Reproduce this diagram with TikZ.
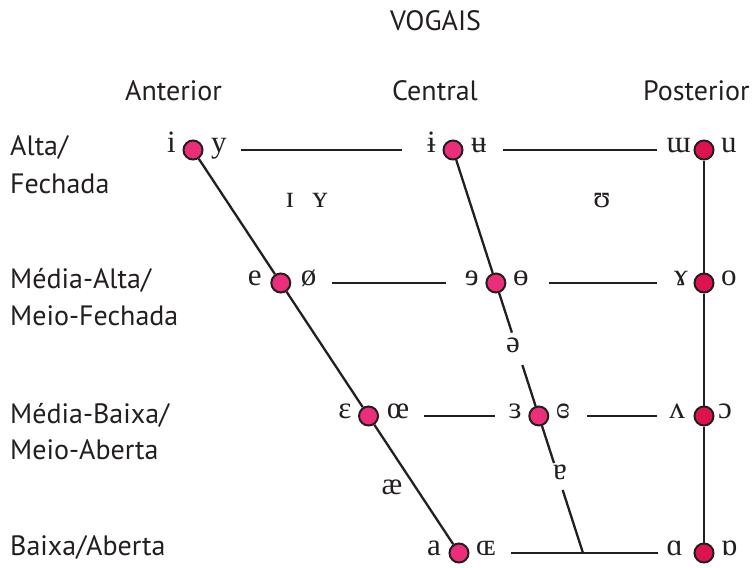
\documentclass[tikz,border=0pt]{standalone}
\usepackage{fontspec}
\setmainfont{Liberation Serif}
\newfontfamily\labfont{PT Sans}
\usetikzlibrary{calc}
\definecolor{pinkdot}{HTML}{EC2D7A}
\definecolor{reddot}{HTML}{DF1250}
\definecolor{ink}{HTML}{231F20}
\begin{document}
\begin{tikzpicture}[x=1pt,y=-1pt,
  lab/.style={font=\labfont\fontsize{28}{34}\selectfont, text=ink, inner sep=0, anchor=base west},
  ipa/.style={font=\fontsize{31}{36}\selectfont, text=ink, inner sep=0},
  ipaL/.style={ipa, anchor=mid east},
  ipaR/.style={ipa, anchor=mid west},
  ipaM/.style={ipa, anchor=mid},
  ln/.style={line width=2.3pt, draw=ink},
  dotF/.style={circle, draw=ink, line width=2pt, fill=pinkdot, minimum size=19pt, inner sep=0},
  dotB/.style={dotF, fill=reddot}]
\useasboundingbox (0,0) rectangle (756,568);

% skeleton coordinates
\coordinate (f1) at (193,150);
\coordinate (f4) at (459,553);
\coordinate (f2) at ($(f1)!0.33!(f4)$);
\coordinate (f3) at ($(f1)!0.66!(f4)$);
\coordinate (c1) at (453,150);
\coordinate (c4) at (583,553);
\coordinate (c2) at ($(c1)!0.33!(c4)$);
\coordinate (c3) at ($(c1)!0.66!(c4)$);
\coordinate (b1) at (704,150);
\coordinate (b2) at (704,283);
\coordinate (b3) at (704,416);
\coordinate (b4) at (704,553);
\coordinate (g1) at ($(c1)!0.4533!(c4)$);
\coordinate (g2) at ($(c1)!0.5335!(c4)$);
\coordinate (g3) at ($(c1)!0.7767!(c4)$);
\coordinate (g4) at ($(c1)!0.8437!(c4)$);
\coordinate (h1a) at (241,150); \coordinate (h1b) at (402,150);
\coordinate (h1c) at (503,150); \coordinate (h1d) at (657,150);
\coordinate (h2a) at (332,283); \coordinate (h2b) at (446,283);
\coordinate (h2c) at (549,283); \coordinate (h2d) at (657,283);
\coordinate (h3a) at (424,416); \coordinate (h3b) at (495,416);
\coordinate (h3c) at (587,416); \coordinate (h3d) at (657,416);
\coordinate (h4a) at (511,553); \coordinate (h4b) at (658,553);

% dots
\node[dotF] (F1) at (f1) {};
\node[dotF] (F2) at (f2) {};
\node[dotF] (F3) at (f3) {};
\node[dotF] (F4) at (f4) {};
\node[dotF] (C1) at (c1) {};
\node[dotF] (C2) at (c2) {};
\node[dotF] (C3) at (c3) {};
\node[dotB] (B1) at (b1) {};
\node[dotB] (B2) at (b2) {};
\node[dotB] (B3) at (b3) {};
\node[dotB] (B4) at (b4) {};

% lines
\draw[ln] (F1) -- (F2) -- (F3) -- (F4);
\draw[ln] (C1) -- (C2) -- (g1);
\draw[ln] (g2) -- (C3) -- (g3);
\draw[ln] (g4) -- (c4);
\draw[ln] (B1) -- (B2) -- (B3) -- (B4);
\draw[ln] (h1a) -- (h1b);
\draw[ln] (h1c) -- (h1d);
\draw[ln] (h2a) -- (h2b);
\draw[ln] (h2c) -- (h2d);
\draw[ln] (h3a) -- (h3b);
\draw[ln] (h3c) -- (h3d);
\draw[ln] (h4a) -- (h4b);

% vowel symbols
\node[ipaL] (s-i) at ($(f1)+(-17,0)$) {i};
\node[ipaR] (s-y) at ($(f1)+(18,0)$) {y};
\node[ipaL] (s-ibar) at ($(c1)+(-17,0)$) {ɨ};
\node[ipaR] (s-ubar) at ($(c1)+(18,0)$) {ʉ};
\node[ipaL] (s-mw) at ($(b1)+(-13,0)$) {ɯ};
\node[ipaR] (s-u) at ($(b1)+(17,0)$) {u};

\node[ipaL] (s-e) at ($(f2)+(-19,0)$) {e};
\node[ipaR] (s-oslash) at ($(f2)+(20,0)$) {ø};
\node[ipaL] (s-revE) at ($(c2)+(-17,0)$) {ɘ};
\node[ipaR] (s-obar) at ($(c2)+(17,0)$) {ɵ};
\node[ipaL] (s-rams) at ($(b2)+(-16,0)$) {ɤ};
\node[ipaR] (s-o) at ($(b2)+(17,0)$) {o};

\node[ipaL] (s-eps) at ($(f3)+(-17,0)$) {ɛ};
\node[ipaR] (s-oe) at ($(f3)+(18,0)$) {œ};
\node[ipaL] (s-reveps) at ($(c3)+(-17,0)$) {ɜ};
\node[ipaR] (s-creveps) at ($(c3)+(17,0)$) {ɞ};
\node[ipaL] (s-wedge) at ($(b3)+(-19,0)$) {ʌ};
\node[ipaR] (s-openo) at ($(b3)+(14,0)$) {ɔ};

\node[ipaL] (s-a) at ($(f4)+(-18,0)$) {a};
\node[ipaR] (s-OE) at ($(f4)+(17,0)$) {ɶ};
\node[ipaL] (s-scripta) at ($(b4)+(-21,0)$) {ɑ};
\node[ipaR] (s-turnscripta) at ($(b4)+(17,0)$) {ɒ};

\node[ipaM] (s-smi) at (290,205) {ɪ};
\node[ipaM] (s-smy) at (320,205) {ʏ};
\node[ipaM] (s-ups) at (602,205) {ʊ};
\node[ipaM] (s-schwa) at (513,350) {ə};
\node[ipaM] (s-turna) at (560,477) {ɐ};
\node[ipaM] (s-ae) at (392,492) {æ};

% headings
\node[lab] (title) at (390,30) {VOGAIS};
\node[lab] (ant) at (125,100.5) {Anterior};
\node[lab] (cen) at (392,100) {Central};
\node[lab] (pos) at (643,100) {Posterior};

% row labels
\node[lab] (r1a) at (10,155.7) {Alta/};
\node[lab] (r1b) at (10,193.3) {Fechada};
\node[lab] (r2a) at (10,288.3) {Média-Alta/};
\node[lab] (r2b) at (10,325) {Meio-Fechada};
\node[lab] (r3a) at (10,423.3) {Média-Baixa/};
\node[lab] (r3b) at (10,459) {Meio-Aberta};
\node[lab] (r4) at (10,555) {Baixa/Aberta};
\end{tikzpicture}
\end{document}
